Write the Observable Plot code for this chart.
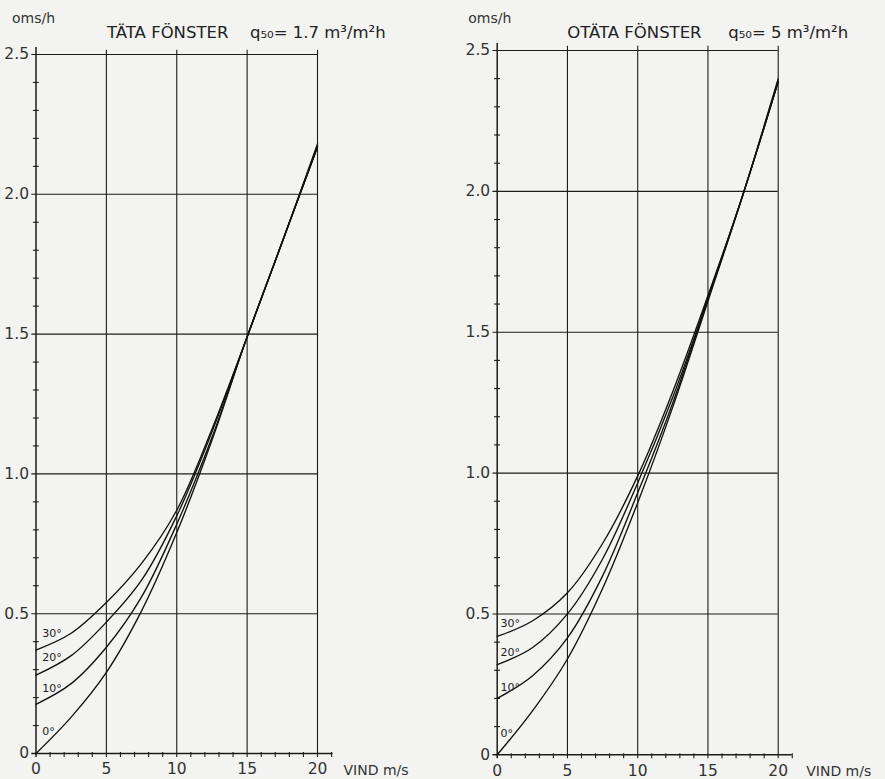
<!DOCTYPE html>
<html>
<head>
<meta charset="utf-8">
<script src="https://cdn.jsdelivr.net/npm/d3@7"></script>
<script src="https://cdn.jsdelivr.net/npm/@observablehq/plot@0.6"></script>
<style>
  body { margin: 0; background: #f3f3f1; }
  #wrap { position: relative; width: 885px; height: 779px; overflow: hidden; background: #f3f3f1; }
  #left { position: absolute; left: 0; top: 0; }
  #right { position: absolute; left: 440px; top: 0; }
</style>
</head>
<body>
<div id="wrap"><div id="left"></div><div id="right"></div></div>
<script>
// Wind speed (m/s) at which each curve is sampled
const wind = [0, 2.5, 5, 7.5, 10, 12.5, 15, 17.5, 20];
const angles = ["0°", "10°", "20°", "30°"];

// Air changes per hour, tight windows (q50 = 1.7 m³/m²h)
const tata0  = [0.00, 0.13, 0.29, 0.51, 0.79, 1.12, 1.49, 1.83, 2.18];
const tata10 = [0.176, 0.25, 0.38, 0.56, 0.82, 1.13, 1.49, 1.83, 2.17];
const tata20 = [0.28, 0.35, 0.47, 0.62, 0.85, 1.15, 1.49, 1.83, 2.17];
const tata30 = [0.37, 0.43, 0.54, 0.68, 0.87, 1.16, 1.49, 1.83, 2.17];

// Air changes per hour, leaky windows (q50 = 5 m³/m²h)
const otata0  = [0.00, 0.155, 0.34, 0.59, 0.895, 1.235, 1.61, 1.99, 2.40];
const otata10 = [0.20, 0.28, 0.415, 0.635, 0.93, 1.25, 1.62, 1.99, 2.39];
const otata20 = [0.32, 0.38, 0.50, 0.695, 0.965, 1.27, 1.62, 1.99, 2.39];
const otata30 = [0.42, 0.475, 0.575, 0.75, 0.99, 1.29, 1.63, 1.99, 2.39];

// Heights of the angle labels written beside the curve starts
const tataLabelLevels  = [0.08, 0.234, 0.345, 0.43];
const otataLabelLevels = [0.076, 0.239, 0.363, 0.466];

// Axis ticks
const xTicks = [0, 5, 10, 15, 20];
const xTickLabels = ["0", "5", "10", "15", "20"];
const yTicks = [0, 0.5, 1, 1.5, 2, 2.5];
const yTickLabels = ["0", "0.5", "1.0", "1.5", "2.0", "2.5"];
const xMinor = d3.range(1, 22).filter(d => d % 5 !== 0);
const yMinor = d3.range(1, 25).filter(d => d % 5 !== 0).map(d => d / 10);

const ink = "#1c1c1c";
const font = "DejaVu Sans";

function panel(o) {
  const rows = o.curves.flatMap((vals, i) =>
    vals.map((v, j) => ({angle: angles[i], wind: wind[j], ach: v})));
  const labels = angles.map((a, i) => ({angle: a, level: o.labelLevels[i]}));
  return Plot.plot({
    width: o.width,
    height: 779,
    marginLeft: o.marginLeft,
    marginRight: o.marginRight,
    marginTop: o.marginTop,
    marginBottom: o.marginBottom,
    x: {domain: [0, 20], axis: null},
    y: {domain: [0, 2.5], axis: null},
    style: {background: "transparent", fontFamily: font, color: ink, overflow: "visible"},
    marks: [
      // grid
      Plot.ruleX(xTicks.slice(1), {x: d => d, y1: -0.014, y2: 2.515, stroke: ink, strokeWidth: 1.1}),
      Plot.ruleY(yTicks.slice(1), {y: d => d, x1: -0.3, x2: 20, stroke: ink, strokeWidth: 1.1}),
      // axes
      Plot.ruleX([0], {x: d => d, y1: -0.014, y2: 2.525, stroke: ink, strokeWidth: 1.5}),
      Plot.ruleY([0], {y: d => d, x1: -0.3, x2: o.axisEnd, stroke: ink, strokeWidth: 1.5}),
      // minor ticks
      Plot.ruleX(xMinor, {x: d => d, y1: -0.014, y2: 0.004, stroke: ink, strokeWidth: 1.1}),
      Plot.link(yMinor, {x1: -0.22, x2: 0.2, y1: d => d, y2: d => d, stroke: ink, strokeWidth: 1.1}),
      // tick labels
      Plot.text(yTicks, {x: 0, y: d => d, text: (d, i) => yTickLabels[i], dx: -7, textAnchor: "end",
        fontSize: 15.5, fill: "#333"}),
      Plot.text(xTicks, {x: d => d, y: 0, text: (d, i) => xTickLabels[i], dy: 16,
        fontSize: 15.5, fill: "#333"}),
      // curves
      Plot.line(rows, {x: "wind", y: "ach", z: "angle", curve: "catmull-rom",
        stroke: "#111", strokeWidth: 1.35}),
      Plot.text(labels, {x: o.labelX, y: "level", text: "angle", textAnchor: "start",
        fontSize: 11, fill: "#222"}),
      // axis titles and heading
      Plot.text(["VIND m/s"], {frameAnchor: "bottom-right", dx: o.vindDx, dy: 17, textAnchor: "start",
        lineAnchor: "middle", fontSize: 14, fill: "#333"}),
      Plot.text(["oms/h"], {frameAnchor: "top-left", dx: o.unitDx, dy: o.unitDy, textAnchor: "start",
        lineAnchor: "middle", fontSize: 14, fill: "#333"}),
      Plot.text([o.title], {frameAnchor: "top-left", dx: o.titleDx, dy: o.titleDy, textAnchor: "start",
        lineAnchor: "middle", fontSize: 16.5, fill: "#222"}),
      Plot.text([o.q50], {frameAnchor: "top-left", dx: o.qDx, dy: o.titleDy, textAnchor: "start",
        lineAnchor: "middle", fontSize: 16.5, fill: "#222"})
    ]
  });
}

document.getElementById("left").append(panel({
  curves: [tata0, tata10, tata20, tata30],
  labelLevels: tataLabelLevels,
  labelX: 0.45,
  width: 440, marginLeft: 35.5, marginRight: 123, marginTop: 54, marginBottom: 26,
  axisEnd: 21.1,
  vindDx: 26,
  unitDx: -24, unitDy: -36,
  title: "TÄTA FÖNSTER", titleDx: 71, titleDy: -22,
  q50: "q₅₀= 1.7 m³/m²h", qDx: 214
}));

document.getElementById("right").append(panel({
  curves: [otata0, otata10, otata20, otata30],
  labelLevels: otataLabelLevels,
  labelX: 0.24,
  width: 445, marginLeft: 56.7, marginRight: 107.3, marginTop: 50, marginBottom: 24.7,
  axisEnd: 21,
  vindDx: 28,
  unitDx: -29, unitDy: -32,
  title: "OTÄTA FÖNSTER", titleDx: 70, titleDy: -18,
  q50: "q₅₀= 5 m³/m²h", qDx: 231
}));
</script>
</body>
</html>
